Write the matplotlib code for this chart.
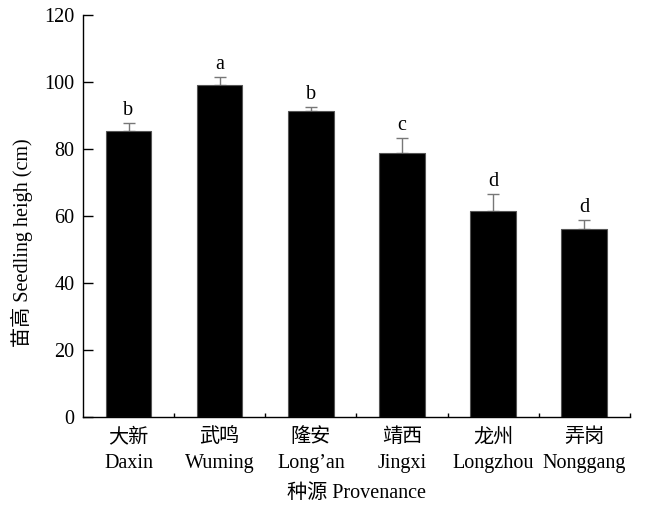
import matplotlib
matplotlib.use("Agg")
import matplotlib.pyplot as plt
import numpy as np

plt.rcParams['font.family'] = ['Liberation Serif', 'Noto Sans CJK SC']

names_cn = ["大新", "武鸣", "隆安", "靖西", "龙州", "弄岗"]
names_en = ["Daxin", "Wuming", "Long\u2019an", "Jingxi", "Longzhou", "Nonggang"]
heights = [85.4, 99.1, 91.3, 78.8, 61.5, 56.1]
errors = [2.4, 2.4, 1.3, 4.5, 5.1, 2.7]
letters = ["b", "a", "b", "c", "d", "d"]

fig = plt.figure(figsize=(6.48, 5.05), dpi=100)
ax = fig.add_axes([0.128, 0.174, 0.844, 0.796])

x = np.arange(len(heights))
ax.bar(x, heights, width=0.5, color="black", edgecolor="#555555", linewidth=0.8, zorder=2)
ax.errorbar(x, heights, yerr=[np.zeros(len(errors)), errors], fmt="none",
            ecolor="#777777", elinewidth=1.0, capsize=4, capthick=1.0, zorder=1)

for xi, h, e, s in zip(x, heights, errors, letters):
    ax.text(xi, h + e + 1.0, s, ha="center", va="bottom", fontsize=14.5)

ax.set_xlim(-0.5, 5.5)
ax.set_ylim(0, 120)
ax.set_yticks(np.arange(0, 121, 20))
ax.set_xticks(x)
ax.set_xticklabels([f"{c}\n{e}" for c, e in zip(names_cn, names_en)], fontsize=14.5,
                   linespacing=1.45)
ax.set_xticks(np.arange(0.5, 5.6, 1.0), minor=True)
ax.tick_params(axis="x", which="major", length=0, pad=8)
ax.tick_params(axis="x", which="minor", direction="in", length=3, width=1)
ax.tick_params(axis="y", direction="in", length=7, width=1, labelsize=14.5, pad=6)

for side in ["top", "right"]:
    ax.spines[side].set_visible(False)
for side in ["left", "bottom"]:
    ax.spines[side].set_linewidth(1.0)

ax.set_ylabel("苗高 Seedling heigh (cm)", fontsize=14.5)
ax.yaxis.set_label_coords(-0.092, 0.433)
ax.set_xlabel("种源 Provenance", fontsize=14.5, labelpad=8)

fig.savefig("out.png", dpi=100)
